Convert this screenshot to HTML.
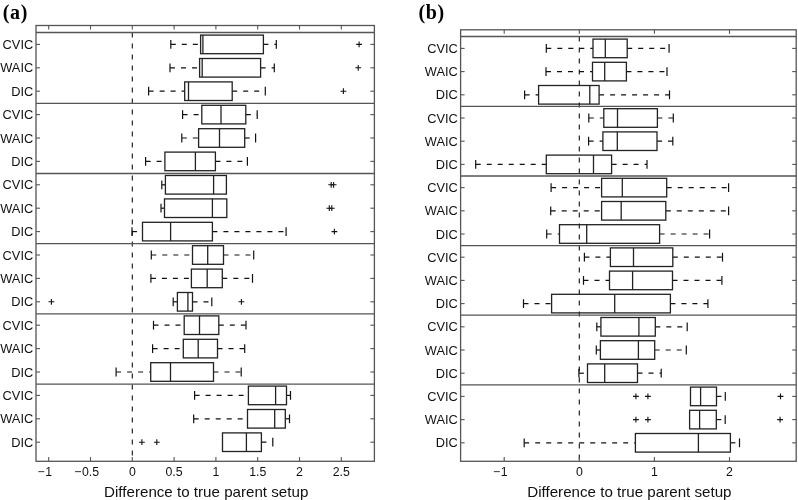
<!DOCTYPE html>
<html><head><meta charset="utf-8"><title>Boxplots</title>
<style>
html,body{margin:0;padding:0;background:#fff;}
body{width:798px;height:500px;overflow:hidden;}
svg{display:block;}
.yl{font-family:"Liberation Sans",Arial,sans-serif;font-size:12.8px;text-anchor:end;fill:#111;}
.xl{font-family:"Liberation Sans",Arial,sans-serif;font-size:12.3px;text-anchor:middle;fill:#111;}
.xt{font-family:"Liberation Sans",Arial,sans-serif;font-size:15.15px;text-anchor:middle;fill:#111;}
.pt{font-family:"Liberation Serif","Times New Roman",serif;font-size:20px;letter-spacing:0.6px;font-weight:bold;fill:#000;}
</style></head><body>
<svg width="798" height="500" viewBox="0 0 798 500">
<rect width="798" height="500" fill="#fff"/>
<line x1="132.3" y1="32.5" x2="132.3" y2="461.3" stroke="#111" stroke-width="1.1" stroke-dasharray="5 6"/>
<line x1="170.8" y1="44.4" x2="200.6" y2="44.4" stroke="#111" stroke-width="1.2" stroke-dasharray="5 6"/>
<line x1="170.8" y1="40" x2="170.8" y2="48.8" stroke="#111" stroke-width="1.2"/>
<line x1="263.4" y1="44.4" x2="276.3" y2="44.4" stroke="#111" stroke-width="1.2" stroke-dasharray="5 6"/>
<line x1="276.3" y1="40" x2="276.3" y2="48.8" stroke="#111" stroke-width="1.2"/>
<rect x="200.6" y="35.1" width="62.8" height="18.6" fill="none" stroke="#222" stroke-width="1.3"/>
<line x1="202.9" y1="35.1" x2="202.9" y2="53.7" stroke="#222" stroke-width="1.3"/>
<path d="M356.2 44.4H362M359.1 41.5V47.3" stroke="#111" stroke-width="1.1" fill="none"/>
<line x1="36" y1="44.4" x2="40" y2="44.4" stroke="#555" stroke-width="1.1"/>
<line x1="370.4" y1="44.4" x2="374.4" y2="44.4" stroke="#555" stroke-width="1.1"/>
<text x="33.2" y="49" class="yl">CVIC</text>
<line x1="170" y1="67.8" x2="199.6" y2="67.8" stroke="#111" stroke-width="1.2" stroke-dasharray="5 6"/>
<line x1="170" y1="63.4" x2="170" y2="72.2" stroke="#111" stroke-width="1.2"/>
<line x1="260.6" y1="67.8" x2="274.3" y2="67.8" stroke="#111" stroke-width="1.2" stroke-dasharray="5 6"/>
<line x1="274.3" y1="63.4" x2="274.3" y2="72.2" stroke="#111" stroke-width="1.2"/>
<rect x="199.6" y="58.5" width="61" height="18.6" fill="none" stroke="#222" stroke-width="1.3"/>
<line x1="202.2" y1="58.5" x2="202.2" y2="77.1" stroke="#222" stroke-width="1.3"/>
<path d="M355.3 67.8H361.1M358.2 64.9V70.7" stroke="#111" stroke-width="1.1" fill="none"/>
<line x1="36" y1="67.8" x2="40" y2="67.8" stroke="#555" stroke-width="1.1"/>
<line x1="370.4" y1="67.8" x2="374.4" y2="67.8" stroke="#555" stroke-width="1.1"/>
<text x="33.2" y="72.4" class="yl">WAIC</text>
<line x1="148.6" y1="91.2" x2="184.7" y2="91.2" stroke="#111" stroke-width="1.2" stroke-dasharray="5 6"/>
<line x1="148.6" y1="86.8" x2="148.6" y2="95.6" stroke="#111" stroke-width="1.2"/>
<line x1="232.2" y1="91.2" x2="265.3" y2="91.2" stroke="#111" stroke-width="1.2" stroke-dasharray="5 6"/>
<line x1="265.3" y1="86.8" x2="265.3" y2="95.6" stroke="#111" stroke-width="1.2"/>
<rect x="184.7" y="81.9" width="47.5" height="18.6" fill="none" stroke="#222" stroke-width="1.3"/>
<line x1="188.5" y1="81.9" x2="188.5" y2="100.5" stroke="#222" stroke-width="1.3"/>
<path d="M340.5 91.2H346.3M343.4 88.3V94.1" stroke="#111" stroke-width="1.1" fill="none"/>
<line x1="36" y1="91.2" x2="40" y2="91.2" stroke="#555" stroke-width="1.1"/>
<line x1="370.4" y1="91.2" x2="374.4" y2="91.2" stroke="#555" stroke-width="1.1"/>
<text x="33.2" y="95.8" class="yl">DIC</text>
<line x1="182.6" y1="114.6" x2="201.8" y2="114.6" stroke="#111" stroke-width="1.2" stroke-dasharray="5 6"/>
<line x1="182.6" y1="110.2" x2="182.6" y2="119" stroke="#111" stroke-width="1.2"/>
<line x1="245.8" y1="114.6" x2="257.2" y2="114.6" stroke="#111" stroke-width="1.2" stroke-dasharray="5 6"/>
<line x1="257.2" y1="110.2" x2="257.2" y2="119" stroke="#111" stroke-width="1.2"/>
<rect x="201.8" y="105.3" width="44" height="18.6" fill="none" stroke="#222" stroke-width="1.3"/>
<line x1="221" y1="105.3" x2="221" y2="123.9" stroke="#222" stroke-width="1.3"/>
<line x1="36" y1="114.6" x2="40" y2="114.6" stroke="#555" stroke-width="1.1"/>
<line x1="370.4" y1="114.6" x2="374.4" y2="114.6" stroke="#555" stroke-width="1.1"/>
<text x="33.2" y="119.2" class="yl">CVIC</text>
<line x1="181.8" y1="138" x2="198.6" y2="138" stroke="#111" stroke-width="1.2" stroke-dasharray="5 6"/>
<line x1="181.8" y1="133.6" x2="181.8" y2="142.4" stroke="#111" stroke-width="1.2"/>
<line x1="244.7" y1="138" x2="255.6" y2="138" stroke="#111" stroke-width="1.2" stroke-dasharray="5 6"/>
<line x1="255.6" y1="133.6" x2="255.6" y2="142.4" stroke="#111" stroke-width="1.2"/>
<rect x="198.6" y="128.7" width="46.1" height="18.6" fill="none" stroke="#222" stroke-width="1.3"/>
<line x1="219.5" y1="128.7" x2="219.5" y2="147.3" stroke="#222" stroke-width="1.3"/>
<line x1="36" y1="138" x2="40" y2="138" stroke="#555" stroke-width="1.1"/>
<line x1="370.4" y1="138" x2="374.4" y2="138" stroke="#555" stroke-width="1.1"/>
<text x="33.2" y="142.6" class="yl">WAIC</text>
<line x1="145.6" y1="161.4" x2="164.9" y2="161.4" stroke="#111" stroke-width="1.2" stroke-dasharray="5 6"/>
<line x1="145.6" y1="157" x2="145.6" y2="165.8" stroke="#111" stroke-width="1.2"/>
<line x1="215.4" y1="161.4" x2="247.4" y2="161.4" stroke="#111" stroke-width="1.2" stroke-dasharray="5 6"/>
<line x1="247.4" y1="157" x2="247.4" y2="165.8" stroke="#111" stroke-width="1.2"/>
<rect x="164.9" y="152.1" width="50.5" height="18.6" fill="none" stroke="#222" stroke-width="1.3"/>
<line x1="195.4" y1="152.1" x2="195.4" y2="170.7" stroke="#222" stroke-width="1.3"/>
<line x1="36" y1="161.4" x2="40" y2="161.4" stroke="#555" stroke-width="1.1"/>
<line x1="370.4" y1="161.4" x2="374.4" y2="161.4" stroke="#555" stroke-width="1.1"/>
<text x="33.2" y="166" class="yl">DIC</text>
<line x1="161.8" y1="184.8" x2="165.4" y2="184.8" stroke="#111" stroke-width="1.2" stroke-dasharray="5 6"/>
<line x1="161.8" y1="180.4" x2="161.8" y2="189.2" stroke="#111" stroke-width="1.2"/>
<rect x="165.4" y="175.5" width="61" height="18.6" fill="none" stroke="#222" stroke-width="1.3"/>
<line x1="213.6" y1="175.5" x2="213.6" y2="194.1" stroke="#222" stroke-width="1.3"/>
<path d="M328.3 184.8H334.1M331.2 181.9V187.7" stroke="#111" stroke-width="1.1" fill="none"/>
<path d="M330.7 184.8H336.5M333.6 181.9V187.7" stroke="#111" stroke-width="1.1" fill="none"/>
<line x1="36" y1="184.8" x2="40" y2="184.8" stroke="#555" stroke-width="1.1"/>
<line x1="370.4" y1="184.8" x2="374.4" y2="184.8" stroke="#555" stroke-width="1.1"/>
<text x="33.2" y="189.4" class="yl">CVIC</text>
<line x1="161" y1="208.2" x2="164.5" y2="208.2" stroke="#111" stroke-width="1.2" stroke-dasharray="5 6"/>
<line x1="161" y1="203.8" x2="161" y2="212.6" stroke="#111" stroke-width="1.2"/>
<rect x="164.5" y="198.9" width="62.3" height="18.6" fill="none" stroke="#222" stroke-width="1.3"/>
<line x1="212.4" y1="198.9" x2="212.4" y2="217.5" stroke="#222" stroke-width="1.3"/>
<path d="M326.4 208.2H332.2M329.3 205.3V211.1" stroke="#111" stroke-width="1.1" fill="none"/>
<path d="M328.9 208.2H334.7M331.8 205.3V211.1" stroke="#111" stroke-width="1.1" fill="none"/>
<line x1="36" y1="208.2" x2="40" y2="208.2" stroke="#555" stroke-width="1.1"/>
<line x1="370.4" y1="208.2" x2="374.4" y2="208.2" stroke="#555" stroke-width="1.1"/>
<text x="33.2" y="212.8" class="yl">WAIC</text>
<line x1="132" y1="231.6" x2="142.5" y2="231.6" stroke="#111" stroke-width="1.2" stroke-dasharray="5 6"/>
<line x1="132" y1="227.2" x2="132" y2="236" stroke="#111" stroke-width="1.2"/>
<line x1="212.4" y1="231.6" x2="286.1" y2="231.6" stroke="#111" stroke-width="1.2" stroke-dasharray="5 6"/>
<line x1="286.1" y1="227.2" x2="286.1" y2="236" stroke="#111" stroke-width="1.2"/>
<rect x="142.5" y="222.3" width="69.9" height="18.6" fill="none" stroke="#222" stroke-width="1.3"/>
<line x1="170.6" y1="222.3" x2="170.6" y2="240.9" stroke="#222" stroke-width="1.3"/>
<path d="M331.5 231.6H337.3M334.4 228.7V234.5" stroke="#111" stroke-width="1.1" fill="none"/>
<line x1="36" y1="231.6" x2="40" y2="231.6" stroke="#555" stroke-width="1.1"/>
<line x1="370.4" y1="231.6" x2="374.4" y2="231.6" stroke="#555" stroke-width="1.1"/>
<text x="33.2" y="236.2" class="yl">DIC</text>
<line x1="151.3" y1="255" x2="192.5" y2="255" stroke="#111" stroke-width="1.2" stroke-dasharray="5 6"/>
<line x1="151.3" y1="250.6" x2="151.3" y2="259.4" stroke="#111" stroke-width="1.2"/>
<line x1="223.5" y1="255" x2="253.7" y2="255" stroke="#111" stroke-width="1.2" stroke-dasharray="5 6"/>
<line x1="253.7" y1="250.6" x2="253.7" y2="259.4" stroke="#111" stroke-width="1.2"/>
<rect x="192.5" y="245.7" width="31" height="18.6" fill="none" stroke="#222" stroke-width="1.3"/>
<line x1="207.7" y1="245.7" x2="207.7" y2="264.3" stroke="#222" stroke-width="1.3"/>
<line x1="36" y1="255" x2="40" y2="255" stroke="#555" stroke-width="1.1"/>
<line x1="370.4" y1="255" x2="374.4" y2="255" stroke="#555" stroke-width="1.1"/>
<text x="33.2" y="259.6" class="yl">CVIC</text>
<line x1="150.9" y1="278.4" x2="191.4" y2="278.4" stroke="#111" stroke-width="1.2" stroke-dasharray="5 6"/>
<line x1="150.9" y1="274" x2="150.9" y2="282.8" stroke="#111" stroke-width="1.2"/>
<line x1="222.3" y1="278.4" x2="252.5" y2="278.4" stroke="#111" stroke-width="1.2" stroke-dasharray="5 6"/>
<line x1="252.5" y1="274" x2="252.5" y2="282.8" stroke="#111" stroke-width="1.2"/>
<rect x="191.4" y="269.1" width="30.9" height="18.6" fill="none" stroke="#222" stroke-width="1.3"/>
<line x1="207.2" y1="269.1" x2="207.2" y2="287.7" stroke="#222" stroke-width="1.3"/>
<line x1="36" y1="278.4" x2="40" y2="278.4" stroke="#555" stroke-width="1.1"/>
<line x1="370.4" y1="278.4" x2="374.4" y2="278.4" stroke="#555" stroke-width="1.1"/>
<text x="33.2" y="283" class="yl">WAIC</text>
<line x1="173.2" y1="301.8" x2="177.4" y2="301.8" stroke="#111" stroke-width="1.2" stroke-dasharray="5 6"/>
<line x1="173.2" y1="297.4" x2="173.2" y2="306.2" stroke="#111" stroke-width="1.2"/>
<line x1="192.5" y1="301.8" x2="211.8" y2="301.8" stroke="#111" stroke-width="1.2" stroke-dasharray="5 6"/>
<line x1="211.8" y1="297.4" x2="211.8" y2="306.2" stroke="#111" stroke-width="1.2"/>
<rect x="177.4" y="292.5" width="15.1" height="18.6" fill="none" stroke="#222" stroke-width="1.3"/>
<line x1="187.9" y1="292.5" x2="187.9" y2="311.1" stroke="#222" stroke-width="1.3"/>
<path d="M48.5 301.8H54.3M51.4 298.9V304.7" stroke="#111" stroke-width="1.1" fill="none"/>
<path d="M238.5 301.8H244.3M241.4 298.9V304.7" stroke="#111" stroke-width="1.1" fill="none"/>
<line x1="36" y1="301.8" x2="40" y2="301.8" stroke="#555" stroke-width="1.1"/>
<line x1="370.4" y1="301.8" x2="374.4" y2="301.8" stroke="#555" stroke-width="1.1"/>
<text x="33.2" y="306.4" class="yl">DIC</text>
<line x1="153.5" y1="325.2" x2="184.2" y2="325.2" stroke="#111" stroke-width="1.2" stroke-dasharray="5 6"/>
<line x1="153.5" y1="320.8" x2="153.5" y2="329.6" stroke="#111" stroke-width="1.2"/>
<line x1="218.8" y1="325.2" x2="246" y2="325.2" stroke="#111" stroke-width="1.2" stroke-dasharray="5 6"/>
<line x1="246" y1="320.8" x2="246" y2="329.6" stroke="#111" stroke-width="1.2"/>
<rect x="184.2" y="315.9" width="34.6" height="18.6" fill="none" stroke="#222" stroke-width="1.3"/>
<line x1="199.5" y1="315.9" x2="199.5" y2="334.5" stroke="#222" stroke-width="1.3"/>
<line x1="36" y1="325.2" x2="40" y2="325.2" stroke="#555" stroke-width="1.1"/>
<line x1="370.4" y1="325.2" x2="374.4" y2="325.2" stroke="#555" stroke-width="1.1"/>
<text x="33.2" y="329.8" class="yl">CVIC</text>
<line x1="152.6" y1="348.6" x2="183.3" y2="348.6" stroke="#111" stroke-width="1.2" stroke-dasharray="5 6"/>
<line x1="152.6" y1="344.2" x2="152.6" y2="353" stroke="#111" stroke-width="1.2"/>
<line x1="217.5" y1="348.6" x2="244.7" y2="348.6" stroke="#111" stroke-width="1.2" stroke-dasharray="5 6"/>
<line x1="244.7" y1="344.2" x2="244.7" y2="353" stroke="#111" stroke-width="1.2"/>
<rect x="183.3" y="339.3" width="34.2" height="18.6" fill="none" stroke="#222" stroke-width="1.3"/>
<line x1="198.2" y1="339.3" x2="198.2" y2="357.9" stroke="#222" stroke-width="1.3"/>
<line x1="36" y1="348.6" x2="40" y2="348.6" stroke="#555" stroke-width="1.1"/>
<line x1="370.4" y1="348.6" x2="374.4" y2="348.6" stroke="#555" stroke-width="1.1"/>
<text x="33.2" y="353.2" class="yl">WAIC</text>
<line x1="116.1" y1="372" x2="150.7" y2="372" stroke="#111" stroke-width="1.2" stroke-dasharray="5 6"/>
<line x1="116.1" y1="367.6" x2="116.1" y2="376.4" stroke="#111" stroke-width="1.2"/>
<line x1="213.5" y1="372" x2="241.2" y2="372" stroke="#111" stroke-width="1.2" stroke-dasharray="5 6"/>
<line x1="241.2" y1="367.6" x2="241.2" y2="376.4" stroke="#111" stroke-width="1.2"/>
<rect x="150.7" y="362.7" width="62.8" height="18.6" fill="none" stroke="#222" stroke-width="1.3"/>
<line x1="170.5" y1="362.7" x2="170.5" y2="381.3" stroke="#222" stroke-width="1.3"/>
<line x1="36" y1="372" x2="40" y2="372" stroke="#555" stroke-width="1.1"/>
<line x1="370.4" y1="372" x2="374.4" y2="372" stroke="#555" stroke-width="1.1"/>
<text x="33.2" y="376.6" class="yl">DIC</text>
<line x1="194.6" y1="395.4" x2="248.4" y2="395.4" stroke="#111" stroke-width="1.2" stroke-dasharray="5 6"/>
<line x1="194.6" y1="391" x2="194.6" y2="399.8" stroke="#111" stroke-width="1.2"/>
<line x1="286.5" y1="395.4" x2="290.5" y2="395.4" stroke="#111" stroke-width="1.2" stroke-dasharray="5 6"/>
<line x1="290.5" y1="391" x2="290.5" y2="399.8" stroke="#111" stroke-width="1.2"/>
<rect x="248.4" y="386.1" width="38.1" height="18.6" fill="none" stroke="#222" stroke-width="1.3"/>
<line x1="275.6" y1="386.1" x2="275.6" y2="404.7" stroke="#222" stroke-width="1.3"/>
<line x1="36" y1="395.4" x2="40" y2="395.4" stroke="#555" stroke-width="1.1"/>
<line x1="370.4" y1="395.4" x2="374.4" y2="395.4" stroke="#555" stroke-width="1.1"/>
<text x="33.2" y="400" class="yl">CVIC</text>
<line x1="193.7" y1="418.8" x2="247.5" y2="418.8" stroke="#111" stroke-width="1.2" stroke-dasharray="5 6"/>
<line x1="193.7" y1="414.4" x2="193.7" y2="423.2" stroke="#111" stroke-width="1.2"/>
<line x1="285.3" y1="418.8" x2="289.5" y2="418.8" stroke="#111" stroke-width="1.2" stroke-dasharray="5 6"/>
<line x1="289.5" y1="414.4" x2="289.5" y2="423.2" stroke="#111" stroke-width="1.2"/>
<rect x="247.5" y="409.5" width="37.8" height="18.6" fill="none" stroke="#222" stroke-width="1.3"/>
<line x1="274.7" y1="409.5" x2="274.7" y2="428.1" stroke="#222" stroke-width="1.3"/>
<line x1="36" y1="418.8" x2="40" y2="418.8" stroke="#555" stroke-width="1.1"/>
<line x1="370.4" y1="418.8" x2="374.4" y2="418.8" stroke="#555" stroke-width="1.1"/>
<text x="33.2" y="423.4" class="yl">WAIC</text>
<line x1="261.4" y1="442.2" x2="272.8" y2="442.2" stroke="#111" stroke-width="1.2" stroke-dasharray="5 6"/>
<line x1="272.8" y1="437.8" x2="272.8" y2="446.6" stroke="#111" stroke-width="1.2"/>
<rect x="222.5" y="432.9" width="38.9" height="18.6" fill="none" stroke="#222" stroke-width="1.3"/>
<line x1="246.4" y1="432.9" x2="246.4" y2="451.5" stroke="#222" stroke-width="1.3"/>
<path d="M139 442.2H144.8M141.9 439.3V445.1" stroke="#111" stroke-width="1.1" fill="none"/>
<path d="M153.9 442.2H159.7M156.8 439.3V445.1" stroke="#111" stroke-width="1.1" fill="none"/>
<line x1="36" y1="442.2" x2="40" y2="442.2" stroke="#555" stroke-width="1.1"/>
<line x1="370.4" y1="442.2" x2="374.4" y2="442.2" stroke="#555" stroke-width="1.1"/>
<text x="33.2" y="446.8" class="yl">DIC</text>
<line x1="36" y1="103.3" x2="374.4" y2="103.3" stroke="#555" stroke-width="1.3"/>
<line x1="36" y1="173.5" x2="374.4" y2="173.5" stroke="#555" stroke-width="1.3"/>
<line x1="36" y1="243.7" x2="374.4" y2="243.7" stroke="#555" stroke-width="1.3"/>
<line x1="36" y1="313.9" x2="374.4" y2="313.9" stroke="#555" stroke-width="1.3"/>
<line x1="36" y1="384.1" x2="374.4" y2="384.1" stroke="#555" stroke-width="1.3"/>
<line x1="48.7" y1="461.3" x2="48.7" y2="457.1" stroke="#555" stroke-width="1.1"/>
<line x1="48.7" y1="25.5" x2="48.7" y2="29.5" stroke="#555" stroke-width="1.1"/>
<text x="48.7" y="476" class="xl">1</text>
<text x="44.78" y="476" class="xl" text-anchor="end" style="text-anchor:end">−</text>
<line x1="90.5" y1="461.3" x2="90.5" y2="457.1" stroke="#555" stroke-width="1.1"/>
<line x1="90.5" y1="25.5" x2="90.5" y2="29.5" stroke="#555" stroke-width="1.1"/>
<text x="90.5" y="476" class="xl">0.5</text>
<text x="81.45" y="476" class="xl" text-anchor="end" style="text-anchor:end">−</text>
<line x1="132.3" y1="461.3" x2="132.3" y2="457.1" stroke="#555" stroke-width="1.1"/>
<line x1="132.3" y1="25.5" x2="132.3" y2="29.5" stroke="#555" stroke-width="1.1"/>
<text x="132.3" y="476" class="xl">0</text>
<line x1="174.1" y1="461.3" x2="174.1" y2="457.1" stroke="#555" stroke-width="1.1"/>
<line x1="174.1" y1="25.5" x2="174.1" y2="29.5" stroke="#555" stroke-width="1.1"/>
<text x="174.1" y="476" class="xl">0.5</text>
<line x1="215.9" y1="461.3" x2="215.9" y2="457.1" stroke="#555" stroke-width="1.1"/>
<line x1="215.9" y1="25.5" x2="215.9" y2="29.5" stroke="#555" stroke-width="1.1"/>
<text x="215.9" y="476" class="xl">1</text>
<line x1="257.7" y1="461.3" x2="257.7" y2="457.1" stroke="#555" stroke-width="1.1"/>
<line x1="257.7" y1="25.5" x2="257.7" y2="29.5" stroke="#555" stroke-width="1.1"/>
<text x="257.7" y="476" class="xl">1.5</text>
<line x1="299.5" y1="461.3" x2="299.5" y2="457.1" stroke="#555" stroke-width="1.1"/>
<line x1="299.5" y1="25.5" x2="299.5" y2="29.5" stroke="#555" stroke-width="1.1"/>
<text x="299.5" y="476" class="xl">2</text>
<line x1="341.3" y1="461.3" x2="341.3" y2="457.1" stroke="#555" stroke-width="1.1"/>
<line x1="341.3" y1="25.5" x2="341.3" y2="29.5" stroke="#555" stroke-width="1.1"/>
<text x="341.3" y="476" class="xl">2.5</text>
<line x1="36" y1="32.5" x2="374.4" y2="32.5" stroke="#555" stroke-width="1.3"/>
<rect x="36" y="25.5" width="338.4" height="435.8" fill="none" stroke="#555" stroke-width="1.3"/>
<text x="206.2" y="497" class="xt">Difference to true parent setup</text>
<text x="2.8" y="18.8" class="pt">(a)</text>
<line x1="579.3" y1="36.5" x2="579.3" y2="461.3" stroke="#111" stroke-width="1.1" stroke-dasharray="5 6"/>
<line x1="546.3" y1="48.4" x2="593" y2="48.4" stroke="#111" stroke-width="1.2" stroke-dasharray="5 6"/>
<line x1="546.3" y1="44" x2="546.3" y2="52.8" stroke="#111" stroke-width="1.2"/>
<line x1="627.2" y1="48.4" x2="669.1" y2="48.4" stroke="#111" stroke-width="1.2" stroke-dasharray="5 6"/>
<line x1="669.1" y1="44" x2="669.1" y2="52.8" stroke="#111" stroke-width="1.2"/>
<rect x="593" y="39.1" width="34.2" height="18.6" fill="none" stroke="#222" stroke-width="1.3"/>
<line x1="605.3" y1="39.1" x2="605.3" y2="57.7" stroke="#222" stroke-width="1.3"/>
<line x1="460.6" y1="48.4" x2="464.6" y2="48.4" stroke="#555" stroke-width="1.1"/>
<line x1="792.2" y1="48.4" x2="796.2" y2="48.4" stroke="#555" stroke-width="1.1"/>
<text x="457.8" y="53" class="yl">CVIC</text>
<line x1="546" y1="71.6" x2="592.5" y2="71.6" stroke="#111" stroke-width="1.2" stroke-dasharray="5 6"/>
<line x1="546" y1="67.2" x2="546" y2="76" stroke="#111" stroke-width="1.2"/>
<line x1="626.4" y1="71.6" x2="667" y2="71.6" stroke="#111" stroke-width="1.2" stroke-dasharray="5 6"/>
<line x1="667" y1="67.2" x2="667" y2="76" stroke="#111" stroke-width="1.2"/>
<rect x="592.5" y="62.3" width="33.9" height="18.6" fill="none" stroke="#222" stroke-width="1.3"/>
<line x1="604.7" y1="62.3" x2="604.7" y2="80.9" stroke="#222" stroke-width="1.3"/>
<line x1="460.6" y1="71.6" x2="464.6" y2="71.6" stroke="#555" stroke-width="1.1"/>
<line x1="792.2" y1="71.6" x2="796.2" y2="71.6" stroke="#555" stroke-width="1.1"/>
<text x="457.8" y="76.2" class="yl">WAIC</text>
<line x1="524.6" y1="94.8" x2="538.6" y2="94.8" stroke="#111" stroke-width="1.2" stroke-dasharray="5 6"/>
<line x1="524.6" y1="90.4" x2="524.6" y2="99.2" stroke="#111" stroke-width="1.2"/>
<line x1="599.1" y1="94.8" x2="669.5" y2="94.8" stroke="#111" stroke-width="1.2" stroke-dasharray="5 6"/>
<line x1="669.5" y1="90.4" x2="669.5" y2="99.2" stroke="#111" stroke-width="1.2"/>
<rect x="538.6" y="85.5" width="60.5" height="18.6" fill="none" stroke="#222" stroke-width="1.3"/>
<line x1="589.8" y1="85.5" x2="589.8" y2="104.1" stroke="#222" stroke-width="1.3"/>
<line x1="460.6" y1="94.8" x2="464.6" y2="94.8" stroke="#555" stroke-width="1.1"/>
<line x1="792.2" y1="94.8" x2="796.2" y2="94.8" stroke="#555" stroke-width="1.1"/>
<text x="457.8" y="99.4" class="yl">DIC</text>
<line x1="588.8" y1="118" x2="603.8" y2="118" stroke="#111" stroke-width="1.2" stroke-dasharray="5 6"/>
<line x1="588.8" y1="113.6" x2="588.8" y2="122.4" stroke="#111" stroke-width="1.2"/>
<line x1="657.4" y1="118" x2="673.3" y2="118" stroke="#111" stroke-width="1.2" stroke-dasharray="5 6"/>
<line x1="673.3" y1="113.6" x2="673.3" y2="122.4" stroke="#111" stroke-width="1.2"/>
<rect x="603.8" y="108.7" width="53.6" height="18.6" fill="none" stroke="#222" stroke-width="1.3"/>
<line x1="617.5" y1="108.7" x2="617.5" y2="127.3" stroke="#222" stroke-width="1.3"/>
<line x1="460.6" y1="118" x2="464.6" y2="118" stroke="#555" stroke-width="1.1"/>
<line x1="792.2" y1="118" x2="796.2" y2="118" stroke="#555" stroke-width="1.1"/>
<text x="457.8" y="122.6" class="yl">CVIC</text>
<line x1="588.6" y1="141.2" x2="602.9" y2="141.2" stroke="#111" stroke-width="1.2" stroke-dasharray="5 6"/>
<line x1="588.6" y1="136.8" x2="588.6" y2="145.6" stroke="#111" stroke-width="1.2"/>
<line x1="657" y1="141.2" x2="672.8" y2="141.2" stroke="#111" stroke-width="1.2" stroke-dasharray="5 6"/>
<line x1="672.8" y1="136.8" x2="672.8" y2="145.6" stroke="#111" stroke-width="1.2"/>
<rect x="602.9" y="131.9" width="54.1" height="18.6" fill="none" stroke="#222" stroke-width="1.3"/>
<line x1="617.3" y1="131.9" x2="617.3" y2="150.5" stroke="#222" stroke-width="1.3"/>
<line x1="460.6" y1="141.2" x2="464.6" y2="141.2" stroke="#555" stroke-width="1.1"/>
<line x1="792.2" y1="141.2" x2="796.2" y2="141.2" stroke="#555" stroke-width="1.1"/>
<text x="457.8" y="145.8" class="yl">WAIC</text>
<line x1="475.7" y1="164.4" x2="546.3" y2="164.4" stroke="#111" stroke-width="1.2" stroke-dasharray="5 6"/>
<line x1="475.7" y1="160" x2="475.7" y2="168.8" stroke="#111" stroke-width="1.2"/>
<line x1="611.6" y1="164.4" x2="647" y2="164.4" stroke="#111" stroke-width="1.2" stroke-dasharray="5 6"/>
<line x1="647" y1="160" x2="647" y2="168.8" stroke="#111" stroke-width="1.2"/>
<rect x="546.3" y="155.1" width="65.3" height="18.6" fill="none" stroke="#222" stroke-width="1.3"/>
<line x1="593.5" y1="155.1" x2="593.5" y2="173.7" stroke="#222" stroke-width="1.3"/>
<line x1="460.6" y1="164.4" x2="464.6" y2="164.4" stroke="#555" stroke-width="1.1"/>
<line x1="792.2" y1="164.4" x2="796.2" y2="164.4" stroke="#555" stroke-width="1.1"/>
<text x="457.8" y="169" class="yl">DIC</text>
<line x1="551.1" y1="187.6" x2="601.6" y2="187.6" stroke="#111" stroke-width="1.2" stroke-dasharray="5 6"/>
<line x1="551.1" y1="183.2" x2="551.1" y2="192" stroke="#111" stroke-width="1.2"/>
<line x1="666.7" y1="187.6" x2="728.6" y2="187.6" stroke="#111" stroke-width="1.2" stroke-dasharray="5 6"/>
<line x1="728.6" y1="183.2" x2="728.6" y2="192" stroke="#111" stroke-width="1.2"/>
<rect x="601.6" y="178.3" width="65.1" height="18.6" fill="none" stroke="#222" stroke-width="1.3"/>
<line x1="622.3" y1="178.3" x2="622.3" y2="196.9" stroke="#222" stroke-width="1.3"/>
<line x1="460.6" y1="187.6" x2="464.6" y2="187.6" stroke="#555" stroke-width="1.1"/>
<line x1="792.2" y1="187.6" x2="796.2" y2="187.6" stroke="#555" stroke-width="1.1"/>
<text x="457.8" y="192.2" class="yl">CVIC</text>
<line x1="550.7" y1="210.8" x2="601.6" y2="210.8" stroke="#111" stroke-width="1.2" stroke-dasharray="5 6"/>
<line x1="550.7" y1="206.4" x2="550.7" y2="215.2" stroke="#111" stroke-width="1.2"/>
<line x1="665.8" y1="210.8" x2="728.6" y2="210.8" stroke="#111" stroke-width="1.2" stroke-dasharray="5 6"/>
<line x1="728.6" y1="206.4" x2="728.6" y2="215.2" stroke="#111" stroke-width="1.2"/>
<rect x="601.6" y="201.5" width="64.2" height="18.6" fill="none" stroke="#222" stroke-width="1.3"/>
<line x1="621.2" y1="201.5" x2="621.2" y2="220.1" stroke="#222" stroke-width="1.3"/>
<line x1="460.6" y1="210.8" x2="464.6" y2="210.8" stroke="#555" stroke-width="1.1"/>
<line x1="792.2" y1="210.8" x2="796.2" y2="210.8" stroke="#555" stroke-width="1.1"/>
<text x="457.8" y="215.4" class="yl">WAIC</text>
<line x1="546.7" y1="234" x2="559.5" y2="234" stroke="#111" stroke-width="1.2" stroke-dasharray="5 6"/>
<line x1="546.7" y1="229.6" x2="546.7" y2="238.4" stroke="#111" stroke-width="1.2"/>
<line x1="659.6" y1="234" x2="709.6" y2="234" stroke="#111" stroke-width="1.2" stroke-dasharray="5 6"/>
<line x1="709.6" y1="229.6" x2="709.6" y2="238.4" stroke="#111" stroke-width="1.2"/>
<rect x="559.5" y="224.7" width="100.1" height="18.6" fill="none" stroke="#222" stroke-width="1.3"/>
<line x1="586.7" y1="224.7" x2="586.7" y2="243.3" stroke="#222" stroke-width="1.3"/>
<line x1="460.6" y1="234" x2="464.6" y2="234" stroke="#555" stroke-width="1.1"/>
<line x1="792.2" y1="234" x2="796.2" y2="234" stroke="#555" stroke-width="1.1"/>
<text x="457.8" y="238.6" class="yl">DIC</text>
<line x1="584.4" y1="257.2" x2="610.4" y2="257.2" stroke="#111" stroke-width="1.2" stroke-dasharray="5 6"/>
<line x1="584.4" y1="252.8" x2="584.4" y2="261.6" stroke="#111" stroke-width="1.2"/>
<line x1="672.8" y1="257.2" x2="722.5" y2="257.2" stroke="#111" stroke-width="1.2" stroke-dasharray="5 6"/>
<line x1="722.5" y1="252.8" x2="722.5" y2="261.6" stroke="#111" stroke-width="1.2"/>
<rect x="610.4" y="247.9" width="62.4" height="18.6" fill="none" stroke="#222" stroke-width="1.3"/>
<line x1="633.5" y1="247.9" x2="633.5" y2="266.5" stroke="#222" stroke-width="1.3"/>
<line x1="460.6" y1="257.2" x2="464.6" y2="257.2" stroke="#555" stroke-width="1.1"/>
<line x1="792.2" y1="257.2" x2="796.2" y2="257.2" stroke="#555" stroke-width="1.1"/>
<text x="457.8" y="261.8" class="yl">CVIC</text>
<line x1="583.5" y1="280.4" x2="609.5" y2="280.4" stroke="#111" stroke-width="1.2" stroke-dasharray="5 6"/>
<line x1="583.5" y1="276" x2="583.5" y2="284.8" stroke="#111" stroke-width="1.2"/>
<line x1="672.5" y1="280.4" x2="721.9" y2="280.4" stroke="#111" stroke-width="1.2" stroke-dasharray="5 6"/>
<line x1="721.9" y1="276" x2="721.9" y2="284.8" stroke="#111" stroke-width="1.2"/>
<rect x="609.5" y="271.1" width="63" height="18.6" fill="none" stroke="#222" stroke-width="1.3"/>
<line x1="632.6" y1="271.1" x2="632.6" y2="289.7" stroke="#222" stroke-width="1.3"/>
<line x1="460.6" y1="280.4" x2="464.6" y2="280.4" stroke="#555" stroke-width="1.1"/>
<line x1="792.2" y1="280.4" x2="796.2" y2="280.4" stroke="#555" stroke-width="1.1"/>
<text x="457.8" y="285" class="yl">WAIC</text>
<line x1="523.5" y1="303.6" x2="551.6" y2="303.6" stroke="#111" stroke-width="1.2" stroke-dasharray="5 6"/>
<line x1="523.5" y1="299.2" x2="523.5" y2="308" stroke="#111" stroke-width="1.2"/>
<line x1="670.4" y1="303.6" x2="707.9" y2="303.6" stroke="#111" stroke-width="1.2" stroke-dasharray="5 6"/>
<line x1="707.9" y1="299.2" x2="707.9" y2="308" stroke="#111" stroke-width="1.2"/>
<rect x="551.6" y="294.3" width="118.8" height="18.6" fill="none" stroke="#222" stroke-width="1.3"/>
<line x1="614.7" y1="294.3" x2="614.7" y2="312.9" stroke="#222" stroke-width="1.3"/>
<line x1="460.6" y1="303.6" x2="464.6" y2="303.6" stroke="#555" stroke-width="1.1"/>
<line x1="792.2" y1="303.6" x2="796.2" y2="303.6" stroke="#555" stroke-width="1.1"/>
<text x="457.8" y="308.2" class="yl">DIC</text>
<line x1="596.8" y1="326.8" x2="600.9" y2="326.8" stroke="#111" stroke-width="1.2" stroke-dasharray="5 6"/>
<line x1="596.8" y1="322.4" x2="596.8" y2="331.2" stroke="#111" stroke-width="1.2"/>
<line x1="655.3" y1="326.8" x2="687.2" y2="326.8" stroke="#111" stroke-width="1.2" stroke-dasharray="5 6"/>
<line x1="687.2" y1="322.4" x2="687.2" y2="331.2" stroke="#111" stroke-width="1.2"/>
<rect x="600.9" y="317.5" width="54.4" height="18.6" fill="none" stroke="#222" stroke-width="1.3"/>
<line x1="638.9" y1="317.5" x2="638.9" y2="336.1" stroke="#222" stroke-width="1.3"/>
<line x1="460.6" y1="326.8" x2="464.6" y2="326.8" stroke="#555" stroke-width="1.1"/>
<line x1="792.2" y1="326.8" x2="796.2" y2="326.8" stroke="#555" stroke-width="1.1"/>
<text x="457.8" y="331.4" class="yl">CVIC</text>
<line x1="596.3" y1="350" x2="600.4" y2="350" stroke="#111" stroke-width="1.2" stroke-dasharray="5 6"/>
<line x1="596.3" y1="345.6" x2="596.3" y2="354.4" stroke="#111" stroke-width="1.2"/>
<line x1="654.7" y1="350" x2="686.3" y2="350" stroke="#111" stroke-width="1.2" stroke-dasharray="5 6"/>
<line x1="686.3" y1="345.6" x2="686.3" y2="354.4" stroke="#111" stroke-width="1.2"/>
<rect x="600.4" y="340.7" width="54.3" height="18.6" fill="none" stroke="#222" stroke-width="1.3"/>
<line x1="638.4" y1="340.7" x2="638.4" y2="359.3" stroke="#222" stroke-width="1.3"/>
<line x1="460.6" y1="350" x2="464.6" y2="350" stroke="#555" stroke-width="1.1"/>
<line x1="792.2" y1="350" x2="796.2" y2="350" stroke="#555" stroke-width="1.1"/>
<text x="457.8" y="354.6" class="yl">WAIC</text>
<line x1="578.9" y1="373.2" x2="587.5" y2="373.2" stroke="#111" stroke-width="1.2" stroke-dasharray="5 6"/>
<line x1="578.9" y1="368.8" x2="578.9" y2="377.6" stroke="#111" stroke-width="1.2"/>
<line x1="637.5" y1="373.2" x2="661.2" y2="373.2" stroke="#111" stroke-width="1.2" stroke-dasharray="5 6"/>
<line x1="661.2" y1="368.8" x2="661.2" y2="377.6" stroke="#111" stroke-width="1.2"/>
<rect x="587.5" y="363.9" width="50" height="18.6" fill="none" stroke="#222" stroke-width="1.3"/>
<line x1="604.7" y1="363.9" x2="604.7" y2="382.5" stroke="#222" stroke-width="1.3"/>
<line x1="460.6" y1="373.2" x2="464.6" y2="373.2" stroke="#555" stroke-width="1.1"/>
<line x1="792.2" y1="373.2" x2="796.2" y2="373.2" stroke="#555" stroke-width="1.1"/>
<text x="457.8" y="377.8" class="yl">DIC</text>
<line x1="716.5" y1="396.4" x2="725.3" y2="396.4" stroke="#111" stroke-width="1.2" stroke-dasharray="5 6"/>
<line x1="725.3" y1="392" x2="725.3" y2="400.8" stroke="#111" stroke-width="1.2"/>
<rect x="690.5" y="387.1" width="26" height="18.6" fill="none" stroke="#222" stroke-width="1.3"/>
<line x1="700.6" y1="387.1" x2="700.6" y2="405.7" stroke="#222" stroke-width="1.3"/>
<path d="M633 396.4H638.8M635.9 393.5V399.3" stroke="#111" stroke-width="1.1" fill="none"/>
<path d="M645 396.4H650.8M647.9 393.5V399.3" stroke="#111" stroke-width="1.1" fill="none"/>
<path d="M777.6 396.4H783.4M780.5 393.5V399.3" stroke="#111" stroke-width="1.1" fill="none"/>
<line x1="460.6" y1="396.4" x2="464.6" y2="396.4" stroke="#555" stroke-width="1.1"/>
<line x1="792.2" y1="396.4" x2="796.2" y2="396.4" stroke="#555" stroke-width="1.1"/>
<text x="457.8" y="401" class="yl">CVIC</text>
<line x1="716.3" y1="419.6" x2="725.2" y2="419.6" stroke="#111" stroke-width="1.2" stroke-dasharray="5 6"/>
<line x1="725.2" y1="415.2" x2="725.2" y2="424" stroke="#111" stroke-width="1.2"/>
<rect x="689.6" y="410.3" width="26.7" height="18.6" fill="none" stroke="#222" stroke-width="1.3"/>
<line x1="699.6" y1="410.3" x2="699.6" y2="428.9" stroke="#222" stroke-width="1.3"/>
<path d="M633 419.6H638.8M635.9 416.7V422.5" stroke="#111" stroke-width="1.1" fill="none"/>
<path d="M645 419.6H650.8M647.9 416.7V422.5" stroke="#111" stroke-width="1.1" fill="none"/>
<path d="M777.2 419.6H783M780.1 416.7V422.5" stroke="#111" stroke-width="1.1" fill="none"/>
<line x1="460.6" y1="419.6" x2="464.6" y2="419.6" stroke="#555" stroke-width="1.1"/>
<line x1="792.2" y1="419.6" x2="796.2" y2="419.6" stroke="#555" stroke-width="1.1"/>
<text x="457.8" y="424.2" class="yl">WAIC</text>
<line x1="524.2" y1="442.8" x2="635.4" y2="442.8" stroke="#111" stroke-width="1.2" stroke-dasharray="5 6"/>
<line x1="524.2" y1="438.4" x2="524.2" y2="447.2" stroke="#111" stroke-width="1.2"/>
<line x1="730.4" y1="442.8" x2="739.5" y2="442.8" stroke="#111" stroke-width="1.2" stroke-dasharray="5 6"/>
<line x1="739.5" y1="438.4" x2="739.5" y2="447.2" stroke="#111" stroke-width="1.2"/>
<rect x="635.4" y="433.5" width="95" height="18.6" fill="none" stroke="#222" stroke-width="1.3"/>
<line x1="698.4" y1="433.5" x2="698.4" y2="452.1" stroke="#222" stroke-width="1.3"/>
<line x1="460.6" y1="442.8" x2="464.6" y2="442.8" stroke="#555" stroke-width="1.1"/>
<line x1="792.2" y1="442.8" x2="796.2" y2="442.8" stroke="#555" stroke-width="1.1"/>
<text x="457.8" y="447.4" class="yl">DIC</text>
<line x1="460.6" y1="106.4" x2="796.2" y2="106.4" stroke="#555" stroke-width="1.3"/>
<line x1="460.6" y1="176" x2="796.2" y2="176" stroke="#555" stroke-width="1.3"/>
<line x1="460.6" y1="245.6" x2="796.2" y2="245.6" stroke="#555" stroke-width="1.3"/>
<line x1="460.6" y1="315.2" x2="796.2" y2="315.2" stroke="#555" stroke-width="1.3"/>
<line x1="460.6" y1="384.8" x2="796.2" y2="384.8" stroke="#555" stroke-width="1.3"/>
<line x1="504.2" y1="461.3" x2="504.2" y2="457.1" stroke="#555" stroke-width="1.1"/>
<line x1="504.2" y1="29.8" x2="504.2" y2="33.8" stroke="#555" stroke-width="1.1"/>
<text x="504.2" y="476" class="xl">1</text>
<text x="500.28" y="476" class="xl" text-anchor="end" style="text-anchor:end">−</text>
<line x1="579.3" y1="461.3" x2="579.3" y2="457.1" stroke="#555" stroke-width="1.1"/>
<line x1="579.3" y1="29.8" x2="579.3" y2="33.8" stroke="#555" stroke-width="1.1"/>
<text x="579.3" y="476" class="xl">0</text>
<line x1="654.4" y1="461.3" x2="654.4" y2="457.1" stroke="#555" stroke-width="1.1"/>
<line x1="654.4" y1="29.8" x2="654.4" y2="33.8" stroke="#555" stroke-width="1.1"/>
<text x="654.4" y="476" class="xl">1</text>
<line x1="729.5" y1="461.3" x2="729.5" y2="457.1" stroke="#555" stroke-width="1.1"/>
<line x1="729.5" y1="29.8" x2="729.5" y2="33.8" stroke="#555" stroke-width="1.1"/>
<text x="729.5" y="476" class="xl">2</text>
<line x1="460.6" y1="36.5" x2="796.2" y2="36.5" stroke="#555" stroke-width="1.3"/>
<rect x="460.6" y="29.8" width="335.6" height="431.5" fill="none" stroke="#555" stroke-width="1.3"/>
<text x="629.4" y="497" class="xt">Difference to true parent setup</text>
<text x="418.5" y="18.8" class="pt">(b)</text>
</svg>
</body></html>
